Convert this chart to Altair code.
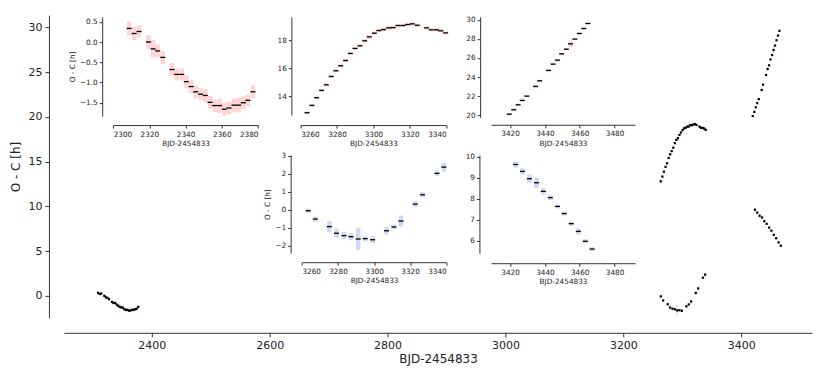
import altair as alt
import pandas as pd

# ---------------- data ----------------
# Series A: first epoch (red errors)
a_x = [2308.8, 2311.6, 2314.3, 2319.5, 2322.1, 2324.6, 2327.4, 2332.5, 2335.1, 2337.9,
       2340.4, 2343.0, 2345.6, 2348.3, 2350.9, 2353.5, 2356.1, 2358.8, 2361.4, 2364.0,
       2366.7, 2369.3, 2371.9, 2374.4, 2377.2]
a_y = [0.335, 0.21, 0.26, 0.0, -0.17, -0.22, -0.38, -0.68, -0.80, -0.80,
       -0.98, -1.10, -1.23, -1.29, -1.32, -1.49, -1.57, -1.57, -1.66, -1.63,
       -1.56, -1.56, -1.50, -1.44, -1.23]
a_e = [0.17, 0.16, 0.15, 0.17, 0.22, 0.16, 0.16, 0.16, 0.15, 0.15,
       0.16, 0.16, 0.16, 0.15, 0.16, 0.16, 0.16, 0.18, 0.16, 0.16,
       0.16, 0.18, 0.16, 0.14, 0.16]

# Series B: second epoch, upper (red errors)
b_x = [3263.5, 3266.2, 3268.8, 3271.5, 3274.1, 3276.8, 3279.4, 3282.0, 3284.7, 3287.3,
       3289.9, 3292.6, 3295.2, 3297.7, 3300.5, 3303.0, 3305.6, 3308.4, 3310.9, 3313.5,
       3316.2, 3318.8, 3321.4, 3324.1, 3329.2, 3331.8, 3334.6, 3337.1, 3339.7]
b_y = [12.80, 13.33, 13.88, 14.41, 14.81, 15.41, 15.82, 16.18, 16.56, 17.07,
       17.43, 17.62, 17.98, 18.26, 18.53, 18.72, 18.79, 18.91, 18.93, 19.08,
       19.08, 19.15, 19.20, 19.10, 18.91, 18.77, 18.77, 18.70, 18.55]
b_e = [0.12] * 29

# Series C: third epoch, upper (red errors)
c_x = [3419.5, 3422.1, 3424.6, 3427.0, 3429.6, 3434.6, 3437.0, 3442.1, 3444.7, 3447.2,
       3449.6, 3452.3, 3454.7, 3457.2, 3459.8, 3462.3, 3464.7]
c_y = [20.10, 20.56, 21.08, 21.54, 21.99, 23.01, 23.60, 24.69, 25.35, 25.77,
       26.43, 26.92, 27.48, 27.97, 28.57, 29.09, 29.62]
c_e = [0.12, 0.12, 0.12, 0.12, 0.12, 0.12, 0.12, 0.12, 0.12, 0.12,
       0.12, 0.12, 0.35, 0.12, 0.12, 0.12, 0.12]

# Series D: second epoch, lower (blue errors)
d_x = [3263.5, 3267.4, 3275.2, 3279.2, 3283.3, 3287.2, 3291.2, 3295.1, 3299.2, 3306.9,
       3311.0, 3314.9, 3322.8, 3326.9, 3334.9, 3338.7]
d_y = [-0.06, -0.52, -0.94, -1.31, -1.44, -1.50, -1.63, -1.61, -1.67, -1.17,
       -0.96, -0.63, 0.31, 0.83, 2.02, 2.37]
d_e = [0.12, 0.15, 0.30, 0.25, 0.20, 0.20, 0.60, 0.15, 0.20, 0.20,
       0.12, 0.30, 0.15, 0.15, 0.15, 0.25]

# Series E: third epoch, lower (blue errors)
e_x = [3423.2, 3427.1, 3431.1, 3435.2, 3439.1, 3443.1, 3447.2, 3451.1, 3455.1, 3459.2,
       3463.2, 3467.1]
e_y = [9.63, 9.30, 8.95, 8.76, 8.35, 8.05, 7.63, 7.29, 6.81, 6.44, 5.97, 5.60]
e_e = [0.15, 0.15, 0.20, 0.25, 0.15, 0.12, 0.10, 0.10, 0.10, 0.15, 0.10, 0.10]

RED = "#ff0000"
BLUE = "#4169e1"

x_title = "BJD-2454833"
y_title = "O - C [h]"


def frame(xs, ys, es, col):
    return pd.DataFrame({
        "x": xs, "y": ys,
        "lo": [y - e for y, e in zip(ys, es)],
        "hi": [y + e for y, e in zip(ys, es)],
        "c": col,
    })


A = frame(a_x, a_y, a_e, RED)
B = frame(b_x, b_y, b_e, RED)
C = frame(c_x, c_y, c_e, RED)
D = frame(d_x, d_y, d_e, BLUE)
E = frame(e_x, e_y, e_e, BLUE)
ALL = pd.concat([A, B, C, D, E], ignore_index=True)

W, H = 749, 303
FONT = "DejaVu Sans"
AX = "#333333"

# ---------------- main panel ----------------
main_xs = alt.Scale(domain=[2251, 3520], nice=False, zero=False)
main_ys = alt.Scale(domain=[-2.46, 31.37], nice=False, zero=False)
main_xaxis = alt.Axis(orient="bottom", offset=15, values=[2400, 2600, 2800, 3000, 3200, 3400],
                      format="d", title=x_title, tickSize=4, labelFontSize=11, titleFontSize=12,
                      labelPadding=3, titlePadding=3, domainColor=AX, tickColor=AX,
                      labelColor="#222222", titleColor="#222222", titleFontWeight="normal",
                      grid=False, labelFont=FONT, titleFont=FONT)
main_yaxis = alt.Axis(orient="left", offset=15, values=[0, 5, 10, 15, 20, 25, 30],
                      format="d", title=y_title, tickSize=4, labelFontSize=11, titleFontSize=12,
                      labelPadding=3, titlePadding=5, domainColor=AX, tickColor=AX,
                      labelColor="#222222", titleColor="#222222", titleFontWeight="normal",
                      grid=False, labelFont=FONT, titleFont=FONT)

main_err = alt.Chart(ALL).mark_rule(strokeWidth=1.2, opacity=0.25).encode(
    x=alt.X("x:Q", scale=main_xs, axis=main_xaxis),
    y=alt.Y("lo:Q", scale=main_ys, axis=main_yaxis),
    y2="hi:Q",
    color=alt.Color("c:N", scale=None),
)
main_pts = alt.Chart(ALL).mark_square(size=5, color="black", opacity=1).encode(
    x=alt.X("x:Q", scale=main_xs, axis=None),
    y=alt.Y("y:Q", scale=main_ys, axis=None),
)


def inset(df, col, op, xdom, xrng, ydom, yrng, xoff, yoff, xticks, yticks, yfmt, ytitle):
    xs = alt.Scale(domain=xdom, range=xrng, nice=False, zero=False)
    ys = alt.Scale(domain=ydom, range=yrng, nice=False, zero=False)
    xa = alt.Axis(orient="bottom", offset=xoff, values=xticks, format="d", title=x_title,
                  tickSize=3, labelFontSize=7.3, titleFontSize=7.3, labelPadding=2,
                  titlePadding=2, domainColor=AX, tickColor=AX, labelColor="#222222",
                  titleColor="#222222", titleFontWeight="normal", grid=False,
                  labelFont=FONT, titleFont=FONT, domainWidth=1)
    ya = alt.Axis(orient="left", offset=yoff, values=yticks, format=yfmt, title=ytitle,
                  tickSize=3, labelFontSize=7.3, titleFontSize=7.3, labelPadding=2,
                  titlePadding=3, domainColor=AX, tickColor=AX, labelColor="#222222",
                  titleColor="#222222", titleFontWeight="normal", grid=False,
                  labelFont=FONT, titleFont=FONT, domainWidth=1)
    err = alt.Chart(df).mark_rule(strokeWidth=4.5, color=col, opacity=op).encode(
        x=alt.X("x:Q", scale=xs, axis=xa),
        y=alt.Y("lo:Q", scale=ys, axis=ya),
        y2="hi:Q",
    )
    tk = alt.Chart(df).mark_tick(orient="horizontal", size=5, thickness=1.3,
                                 color="black", opacity=1).encode(
        x=alt.X("x:Q", scale=xs, axis=None),
        y=alt.Y("y:Q", scale=ys, axis=None),
    )
    return [err, tk]


layers = [main_err, main_pts]
layers += inset(A, RED, 0.17, [2300, 2380], [49.3, 194.3], [-1.83, 0.62], [101, 1.7],
                110 - H, -38.3, [2300, 2320, 2340, 2360, 2380],
                [-1.5, -1.0, -0.5, 0.0, 0.5], ".1f", y_title)
layers += inset(B, RED, 0.17, [3260, 3340], [237, 382.7], [12.63, 19.70], [100, 1.7],
                110 - H, -227.7, [3260, 3280, 3300, 3320, 3340],
                [14, 16, 18], "d", "")
layers += inset(C, RED, 0.17, [3409.1, 3491.7], [427.7, 571.7], [19.76, 30.31], [102.3, 1.7],
                109.7 - H, -416.7, [3420, 3440, 3460, 3480],
                [20, 22, 24, 26, 28, 30], "d", "")
layers += inset(D, BLUE, 0.25, [3260, 3340], [238.3, 382.7], [-2.42, 3.04], [238.3, 140],
                247.3 - H, -227, [3260, 3280, 3300, 3320, 3340],
                [-2, -1, 0, 1, 2, 3], "d", y_title)
layers += inset(E, BLUE, 0.25, [3409.1, 3491.7], [427.7, 571.7], [5.4, 10.08], [238.3, 140],
                248.3 - H, -416, [3420, 3440, 3460, 3480],
                [6, 7, 8, 9, 10], "d", "")

chart = alt.layer(*layers).resolve_scale(
    x="independent", y="independent"
).properties(
    width=W, height=H,
    autosize=alt.AutoSizeParams(type="none"),
    padding={"left": 56, "top": 7, "right": 10, "bottom": 50},
).configure(font=FONT).configure_view(stroke=None, strokeWidth=0)

chart.save("out.html", embed_options={"renderer": "svg", "actions": False})
